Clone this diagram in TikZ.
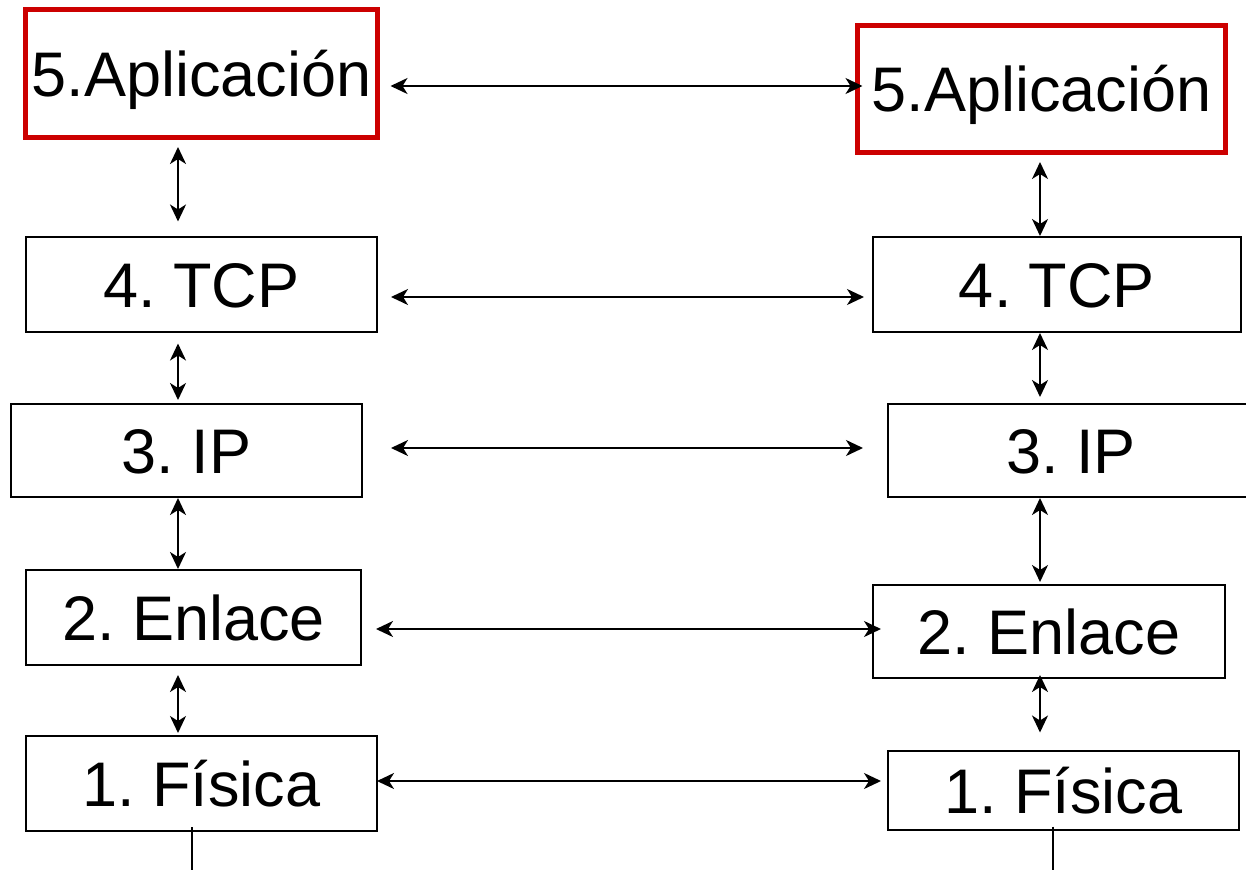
\documentclass[tikz,border=0pt]{standalone}
\usepackage{fontspec}
\setmainfont{Liberation Sans}
\frenchspacing
\usepackage{tikz}
\usetikzlibrary{positioning,arrows.meta}
\usepackage{xcolor}
\definecolor{appred}{RGB}{204,0,0}

\begin{document}
\begin{tikzpicture}[
    x=1pt, y=-1pt,
    every node/.style={font=\fontsize{63}{70}\selectfont, align=center, inner sep=0pt, text height=46pt, text depth=0pt},
    layerBox/.style={rectangle, draw=black, line width=2pt, minimum height=95pt, minimum width=351pt},
    appBox/.style={rectangle, draw=appred, line width=5pt, minimum height=128pt, minimum width=352pt},
    link/.style={draw=black, line width=2pt, {Stealth[length=17pt,width=16pt,inset=5pt]}-{Stealth[length=17pt,width=16pt,inset=5pt]}},
    wire/.style={draw=black, line width=2pt}
]
    \useasboundingbox (0,0) rectangle (1246,869);

    % left stack
    \node [appBox] (appL) at (201.5, 73.5) {5.Aplicación};
    \node [layerBox] (tcpL) at (201.5, 284) {4. TCP};
    \node [layerBox, minimum height=93pt] (ipL) at (186.5, 450.5) {3. IP};
    \node [layerBox, minimum width=335pt] (enlL) at (193.5, 617.5) {2. Enlace};
    \node [layerBox] (fisL) at (201.5, 783.5) {1. Física};

    % right stack
    \node [appBox, minimum width=368pt, minimum height=127pt] (appR) at (1041.5, 89) {5.Aplicación};
    \node [layerBox, minimum width=368pt] (tcpR) at (1057, 284.5) {4. TCP};
    \node [layerBox, minimum width=366pt, minimum height=93pt] (ipR) at (1071, 450.5) {3. IP};
    \node [layerBox, minimum width=352pt, minimum height=93pt] (enlR) at (1049, 631.5) {2. Enlace};
    \node [layerBox, minimum height=79pt] (fisR) at (1063.5, 790) {1. Física};

    \coordinate (colL) at (178, 0);
    \coordinate (colR) at (1040, 0);
    \coordinate (busL) at (192, 880);
    \coordinate (busR) at (1053, 880);

    % peer links
    \path [link, shorten <=10.5pt, shorten >=-7.5pt] (appL.east |- 0,86) -- (appR.west |- 0,86);
    \path [link, shorten <=13pt, shorten >=8pt] (tcpL.east |- 0,297) -- (tcpR.west |- 0,297);
    \path [link, shorten <=28pt, shorten >=24pt] (ipL.east |- 0,448) -- (ipR.west |- 0,448);
    \path [link, shorten <=14pt, shorten >=-9pt] (enlL.east |- 0,629) -- (enlR.west |- 0,629);
    \path [link, shorten <=-1pt, shorten >=6pt] (fisL.east |- 0,781) -- (fisR.west |- 0,781);

    % layer links, left
    \path [link, shorten <=7pt, shorten >=14pt] (appL.south -| colL) -- (tcpL.north -| colL);
    \path [link, shorten <=11pt, shorten >=3pt] (tcpL.south -| colL) -- (ipL.north -| colL);
    \path [link] (ipL.south -| colL) -- (enlL.north -| colL);
    \path [link, shorten <=9pt, shorten >=2pt] (enlL.south -| colL) -- (fisL.north -| colL);

    % layer links, right
    \path [link, shorten <=7pt] (appR.south -| colR) -- (tcpR.north -| colR);
    \path [link, shorten >=6pt] (tcpR.south -| colR) -- (ipR.north -| colR);
    \path [link, shorten >=2pt] (ipR.south -| colR) -- (enlR.north -| colR);
    \path [link, shorten <=-4pt, shorten >=17pt] (enlR.south -| colR) -- (fisR.north -| colR);

    % medium
    \path [wire, shorten <=-5pt] (fisL.south -| busL) -- (busL);
    \path [wire, shorten <=-4pt] (fisR.south -| busR) -- (busR);
\end{tikzpicture}
\end{document}
